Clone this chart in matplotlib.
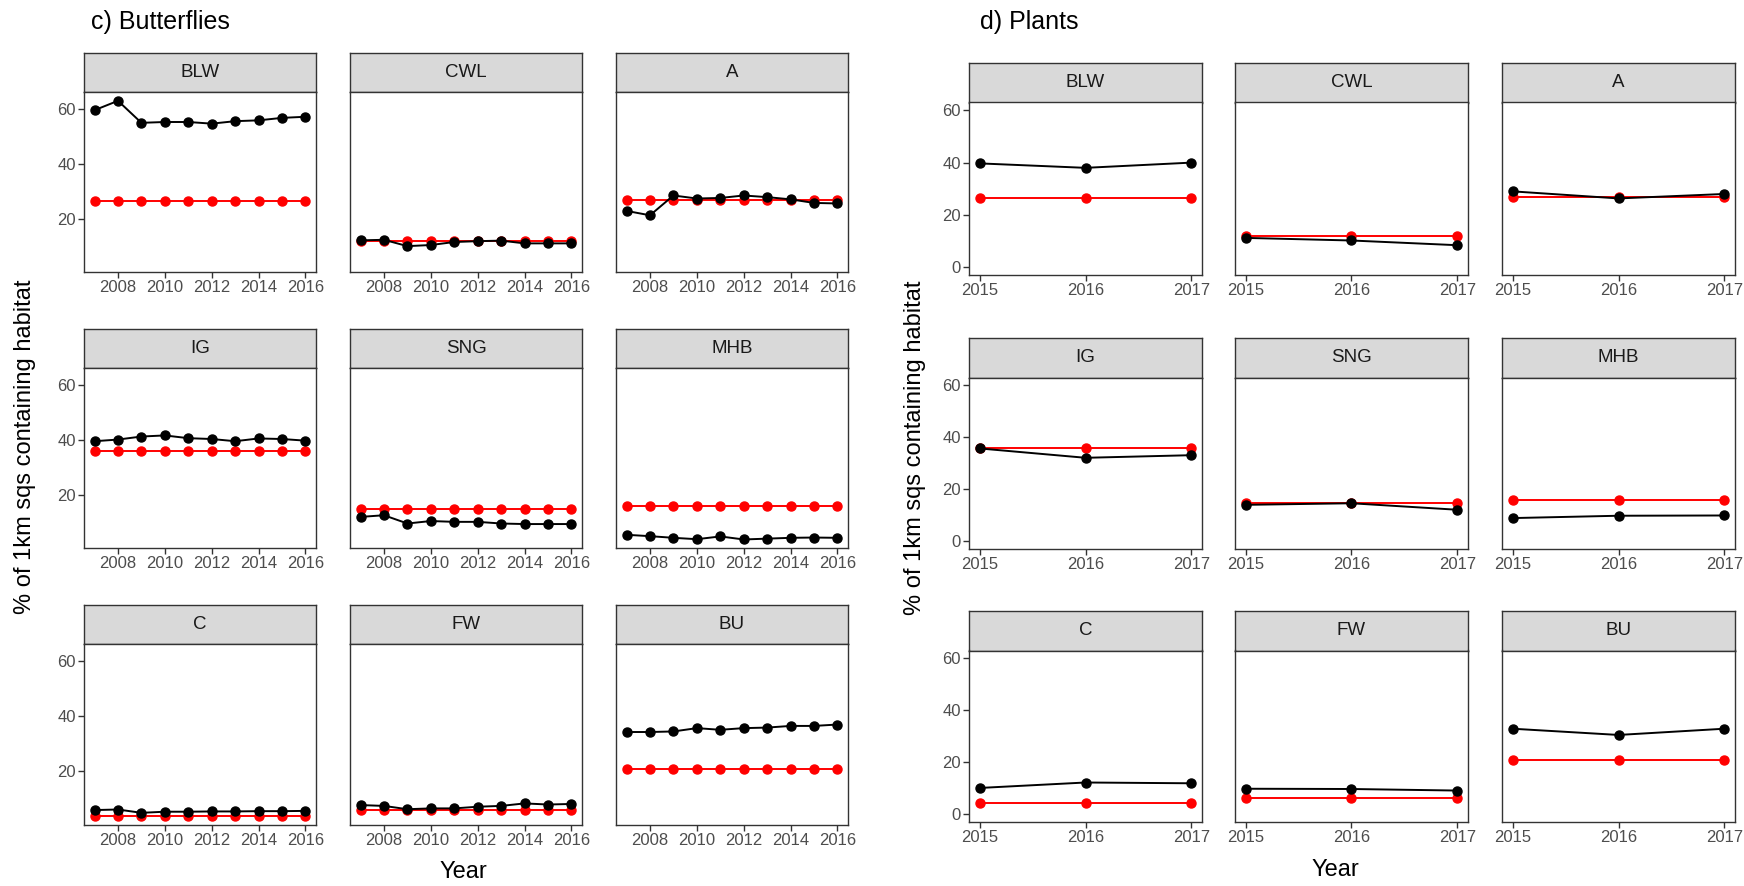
import numpy as np
import matplotlib
matplotlib.use("Agg")
import matplotlib.pyplot as plt

# DATA

habitats = ["BLW", "CWL", "A", "IG", "SNG", "MHB", "C", "FW", "BU"]

bfly_years = [2007, 2008, 2009, 2010, 2011, 2012, 2013, 2014, 2015, 2016]
bfly_BLW = [59.4, 62.8, 54.8, 55.1, 55.1, 54.5, 55.4, 55.7, 56.6, 57.0]
bfly_CWL = [12.1, 12.3, 10.0, 10.4, 11.5, 11.8, 12.0, 11.0, 11.0, 11.0]
bfly_A = [22.8, 21.2, 28.4, 27.3, 27.5, 28.4, 27.8, 27.0, 25.7, 25.5]
bfly_IG = [39.4, 40.0, 41.1, 41.5, 40.5, 40.2, 39.4, 40.4, 40.2, 39.6]
bfly_SNG = [11.9, 12.5, 9.5, 10.4, 10.1, 10.1, 9.5, 9.3, 9.3, 9.3]
bfly_MHB = [5.4, 4.9, 4.3, 3.8, 4.8, 3.7, 4.0, 4.3, 4.4, 4.3]
bfly_C = [6.0, 6.2, 5.0, 5.4, 5.4, 5.5, 5.5, 5.6, 5.6, 5.7]
bfly_FW = [7.8, 7.5, 6.3, 6.6, 6.6, 7.2, 7.5, 8.4, 8.0, 8.2]
bfly_BU = [34.2, 34.2, 34.4, 35.6, 35.0, 35.6, 35.8, 36.4, 36.4, 36.9]
bfly_base = [26.5, 12.0, 26.7, 36.0, 14.6, 16.0, 4.0, 5.9, 20.8]

plant_years = [2015, 2016, 2017]
plant_BLW = [39.7, 38.0, 40.0]
plant_CWL = [11.2, 10.2, 8.4]
plant_A = [29.0, 26.3, 28.0]
plant_IG = [35.7, 32.1, 33.1]
plant_SNG = [14.0, 14.6, 12.1]
plant_MHB = [8.9, 9.8, 9.9]
plant_C = [10.1, 12.2, 11.9]
plant_FW = [9.8, 9.7, 9.1]
plant_BU = [32.9, 30.5, 32.9]
plant_base = [26.6, 12.1, 26.8, 35.9, 14.6, 16.0, 4.3, 6.1, 20.8]

bfly_obs = [bfly_BLW, bfly_CWL, bfly_A, bfly_IG, bfly_SNG, bfly_MHB, bfly_C, bfly_FW, bfly_BU]
plant_obs = [plant_BLW, plant_CWL, plant_A, plant_IG, plant_SNG, plant_MHB, plant_C, plant_FW, plant_BU]

# FIGURE

W, H = 1744, 886
fig = plt.figure(figsize=(W / 100, H / 100), dpi=100)
plt.rcParams['font.family'] = ['Liberation Sans', 'DejaVu Sans']

def px_axes(x0, y0, x1, y1):
    # pixel box (top-left origin) -> figure axes
    return fig.add_axes([x0 / W, 1 - y1 / H, (x1 - x0) / W, (y1 - y0) / H])

def draw_group(lefts, width, strip_tops, strip_h, bottoms, years, obs, base, ylim, yticks, xticks, xpad):
    for i, hab in enumerate(habitats):
        r, c = divmod(i, 3)
        x0 = lefts[c]
        x1 = x0 + width
        st = strip_tops[r]
        # strip
        sax = px_axes(x0, st, x1, st + strip_h)
        sax.set_facecolor('#D9D9D9')
        sax.set_xticks([])
        sax.set_yticks([])
        for sp in sax.spines.values():
            sp.set_color('#333333')
            sp.set_linewidth(1.0)
        sax.text(0.5, 0.5, hab, ha='center', va='center', fontsize=13.5, color='#1A1A1A',
                 transform=sax.transAxes)
        # panel
        ax = px_axes(x0, st + strip_h, x1, bottoms[r])
        ax.plot(years, [base[i]] * len(years), color='red', lw=1.4, marker='o', ms=6.5, zorder=2)
        ax.plot(years, obs[i], color='black', lw=1.4, marker='o', ms=6.5, zorder=3)
        ax.set_xlim(years[0] - xpad, years[-1] + xpad)
        ax.set_ylim(*ylim)
        ax.set_xticks(xticks)
        ax.set_xticklabels([str(t) for t in xticks])
        ax.tick_params(labelsize=12, labelcolor='#4D4D4D', color='#333333', length=4, width=1, pad=2)
        if c == 0:
            ax.set_yticks(yticks)
            ax.set_yticklabels([str(t) for t in yticks])
        else:
            ax.set_yticks([])
        for sp in ax.spines.values():
            sp.set_color('#333333')
            sp.set_linewidth(1.0)

# c) Butterflies
draw_group([84, 350, 616], 232, [53, 329, 605], 39, [272, 548, 825],
           bfly_years, bfly_obs, bfly_base, (0.6, 66), [20, 40, 60],
           [2008, 2010, 2012, 2014, 2016], 0.45)

# d) Plants
draw_group([969, 1235, 1502], 233, [63, 338, 611], 39.5, [275, 549, 822],
           plant_years, plant_obs, plant_base, (-3, 63), [0, 20, 40, 60],
           [2015, 2016, 2017], 0.1)

fig.text(91 / W, 1 - 22 / H, "c) Butterflies", fontsize=18, ha='left', va='center')
fig.text(980 / W, 1 - 22 / H, "d) Plants", fontsize=18, ha='left', va='center')
fig.text(25 / W, 1 - 447 / H, "% of 1km sqs containing habitat", fontsize=17,
         rotation=90, ha='center', va='center')
fig.text(915 / W, 1 - 448 / H, "% of 1km sqs containing habitat", fontsize=17,
         rotation=90, ha='center', va='center')
fig.text(463 / W, 1 - 872 / H, "Year", fontsize=17, ha='center', va='center')
fig.text(1335 / W, 1 - 870 / H, "Year", fontsize=17, ha='center', va='center')

fig.savefig("out.png", dpi=100)
